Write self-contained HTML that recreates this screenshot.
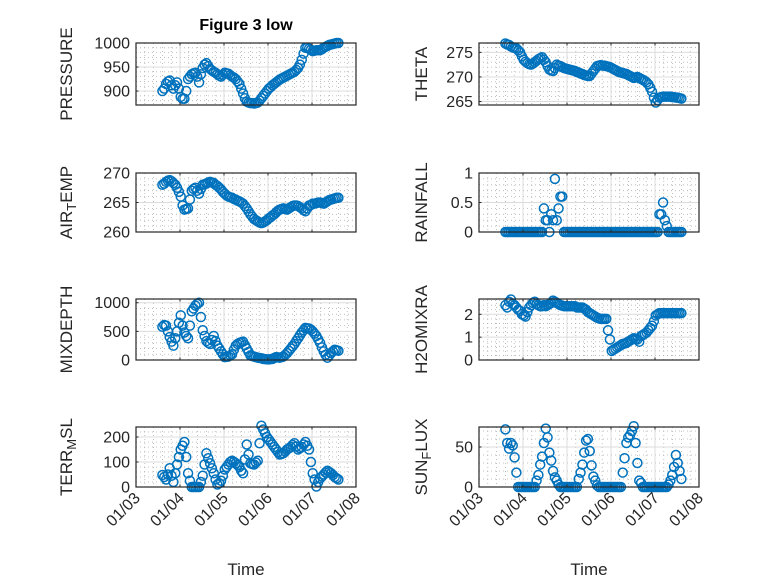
<!DOCTYPE html>
<html><head><meta charset="utf-8"><style>
body{margin:0;background:#fff}
svg{display:block;font-family:"Liberation Sans",sans-serif}
</style></head><body>
<svg id="fig" width="778" height="583" viewBox="0 0 778 583">
<rect width="778" height="583" fill="#fff"/>
<text x="246" y="30" text-anchor="middle" font-size="16" font-weight="bold" fill="#000">Figure 3 low</text>
</svg>
<script>
// time axis: hourly samples starting at day 3.6 (January)
const startDay = 3.6;
const stepDays = 1/24;
const xTickLabels = ["01/03","01/04","01/05","01/06","01/07","01/08"];
const pressure = [900,905,915,920,922,912,905,912,918,905,888,884,884,900,925,930,935,937,938,930,918,935,948,955,958,952,946,943,940,938,935,932,930,934,938,937,936,933,930,928,925,920,915,905,895,885,878,876,875,875,874,875,876,880,885,890,895,900,905,908,912,915,918,921,924,926,928,930,932,934,936,938,940,944,948,955,965,978,990,990,988,986,983,984,985,985,985,987,990,992,994,996,997,998,999,1000,1000];
const airTemp = [268,268.2,268.5,268.7,268.8,268.6,268.3,268,267.5,266.8,266,264.5,263.8,263.9,264,265.5,267,267.3,267.5,267,266.5,267.3,268,268.1,268.2,268.4,268.5,268.4,268.3,268,267.8,267.5,267.2,266.8,266.5,266.2,266,265.9,265.8,265.6,265.5,265.3,265.2,265,264.8,264.4,264,263.5,263,262.6,262.2,262,261.8,261.6,261.5,261.6,261.8,262,262.3,262.5,262.8,263,263.3,263.6,263.8,263.9,264,263.9,263.8,264,264.2,264.4,264.5,264.5,264.4,264.2,264,263.7,263.5,264,264.5,264.6,264.8,264.8,264.9,265,265,264.9,264.8,265,265.2,265.4,265.5,265.6,265.7,265.8,265.8];
const mixDepth = [580,610,600,500,400,320,250,380,500,650,780,600,480,420,380,600,850,900,950,980,1000,750,520,420,330,300,280,350,420,330,250,200,150,100,50,55,60,80,100,180,250,280,300,310,320,260,200,140,80,70,60,50,40,35,30,20,15,12,10,15,20,35,50,45,40,50,60,90,120,160,200,240,280,330,380,430,480,520,560,555,550,530,500,460,420,360,300,220,150,90,40,80,120,150,180,170,160];
const terrMsl = [48,40,30,50,75,45,20,55,90,120,150,165,180,120,55,25,0,0,0,0,0,20,45,90,135,115,95,75,55,30,10,15,25,45,70,80,90,100,105,100,95,88,80,65,55,110,170,130,95,92,90,98,105,175,245,230,215,200,190,180,170,160,150,140,130,132,135,142,150,155,160,168,175,162,150,155,160,170,180,165,150,100,55,30,2,20,35,42,50,58,65,60,55,48,40,35,30];
const theta = [276.8,276.6,276.5,276.2,276,275.9,275.8,275.4,275,274.2,273.5,273.1,272.8,272.6,272.5,272.7,273,273.3,273.6,273.8,274,273.5,273,272.2,271.5,271.3,271.2,271.8,272.5,272.3,272.2,272,271.8,271.7,271.6,271.5,271.4,271.3,271.2,271,270.9,270.7,270.6,270.4,270.3,270.2,270.2,270.7,271.2,271.7,272.2,272.3,272.4,272.3,272.3,272.2,272.1,272,271.8,271.6,271.4,271.2,271,270.9,270.8,270.7,270.6,270.4,270.2,270,269.8,269.9,270,269.8,269.6,269.4,269.2,268.9,268.5,267.8,267,265.8,264.8,265.3,265.8,265.9,266,266,266,266,266,265.9,265.9,265.8,265.8,265.7,265.6];
const rainfall = [0,0,0,0,0,0,0,0,0,0,0,0,0,0,0,0,0,0,0,0,0,0.4,0.2,0.2,0,0.3,0.2,0.9,0.2,0.4,0.6,0.6,0,0,0,0,0,0,0,0,0,0,0,0,0,0,0,0,0,0,0,0,0,0,0,0,0,0,0,0,0,0,0,0,0,0,0,0,0,0,0,0,0,0,0,0,0,0,0,0,0,0,0,0,0.3,0.3,0.5,0.2,0.1,0,0,0,0,0,0,0,0];
const h2oMix = [2.4,2.3,2.55,2.65,2.45,2.4,2.3,2.2,2.15,2.0,1.95,1.9,2.1,2.3,2.4,2.5,2.55,2.45,2.4,2.35,2.35,2.4,2.35,2.4,2.45,2.5,2.6,2.55,2.5,2.45,2.4,2.38,2.35,2.35,2.35,2.35,2.35,2.35,2.35,2.3,2.3,2.3,2.3,2.25,2.2,2.1,2.05,2.0,1.95,1.9,1.85,1.82,1.8,1.8,1.8,1.8,1.3,0.9,0.4,0.45,0.5,0.55,0.6,0.65,0.7,0.72,0.75,0.8,0.85,0.9,0.95,0.92,0.9,0.8,1.05,1.1,1.15,1.2,1.3,1.4,1.5,1.7,1.95,2.0,2.05,2.05,2.05,2.05,2.05,2.05,2.05,2.05,2.05,2.05,2.05,2.05,2.05];
const sunFlux = [72,55,48,55,52,37,18,0,0,0,0,0,0,0,0,0,0,8,15,28,38,55,73,62,43,33,20,12,8,3,0,0,0,0,0,0,0,0,0,0,10,18,28,43,58,60,45,27,13,8,2,0,0,0,0,0,0,0,0,0,0,0,0,0,18,36,55,62,65,70,76,55,30,8,5,0,0,0,0,0,0,0,0,0,0,0,0,0,0,3,8,15,25,40,30,20,10];

const pressureTicks = [900,950,1000], airTicks=[260,265,270], mixTicks=[0,500,1000], terrTicks=[0,100,200];
const thetaTicks=[265,270,275], rainTicks=[0,0.5,1], h2oTicks=[0,1,2], sunTicks=[0,50];

const NS="http://www.w3.org/2000/svg";
const svg=document.getElementById('fig');
function mk(tag,attrs,parent){const e=document.createElementNS(NS,tag);for(const k in attrs)e.setAttribute(k,attrs[k]);(parent||svg).appendChild(e);return e;}

const panels=[
 {name:'pressure',label:[['PRESSURE']],vals:pressure,ticks:pressureTicks,ylim:[871,1000],x:136,y:43,h:62,lx:72,xt:false},
 {name:'air-temp',label:[['AIR'],['T','sub'],['EMP']],vals:airTemp,ticks:airTicks,ylim:[260,270],x:136,y:173,h:59,lx:72,xt:false},
 {name:'mixdepth',label:[['MIXDEPTH']],vals:mixDepth,ticks:mixTicks,ylim:[0,1065],x:136,y:299,h:61,lx:72,xt:false},
 {name:'terr-msl',label:[['TERR'],['M','sub'],['SL']],vals:terrMsl,ticks:terrTicks,ylim:[0,240],x:136,y:427,h:60,lx:72,xt:true},
 {name:'theta',label:[['THETA']],vals:theta,ticks:thetaTicks,ylim:[264.3,276.9],x:479,y:43,h:62,lx:427,xt:false},
 {name:'rainfall',label:[['RAINFALL']],vals:rainfall,ticks:rainTicks,ylim:[0,1],x:479,y:173,h:59,lx:427,xt:false},
 {name:'h2omixra',label:[['H2OMIXRA']],vals:h2oMix,ticks:h2oTicks,ylim:[0,2.67],x:479,y:299,h:61,lx:427,xt:false},
 {name:'sun-flux',label:[['SUN'],['F','sub'],['LUX']],vals:sunFlux,ticks:sunTicks,ylim:[0,75],x:479,y:427,h:60,lx:427,xt:true}
];
const W=220, X0=3, X1=8;
panels.forEach(p=>{
  const g=mk('g',{});
  
  
  const xs=t=>p.x+(t-X0)/(X1-X0)*W;
  const ys=v=>p.y+p.h-(v-p.ylim[0])/(p.ylim[1]-p.ylim[0])*p.h;
  mk('rect',{x:p.x,y:p.y,width:W,height:p.h,fill:'#fff'},g);
  for(let d=X0;d<X1;d++)for(let k=1;k<5;k++){const xx=xs(d+k/5);mk('line',{x1:xx,x2:xx,y1:p.y,y2:p.y+p.h,stroke:'#b0b0b0','stroke-width':0.8,'stroke-dasharray':'1 3'},g);}
  const tk=p.ticks, stp=tk[1]-tk[0];
  for(let v=tk[0]-stp;v<=p.ylim[1]+stp;v+=stp)for(let k=1;k<5;k++){const vv=v+k*stp/5;if(vv<=p.ylim[0]||vv>=p.ylim[1])continue;const yy=ys(vv);mk('line',{x1:p.x,x2:p.x+W,y1:yy,y2:yy,stroke:'#b0b0b0','stroke-width':0.8,'stroke-dasharray':'1 3'},g);}
  for(let d=X0+1;d<X1;d++){const xx=xs(d);mk('line',{x1:xx,x2:xx,y1:p.y,y2:p.y+p.h,stroke:'#dcdcdc','stroke-width':1},g);}
  tk.forEach(v=>{const yy=ys(v);if(yy>p.y+0.5&&yy<p.y+p.h-0.5)mk('line',{x1:p.x,x2:p.x+W,y1:yy,y2:yy,stroke:'#dcdcdc','stroke-width':1},g);});
  p.vals.forEach((v,i)=>{
    const c=mk('circle',{cx:xs(startDay+i*stepDays),cy:ys(v),r:4.5,fill:'none',stroke:'#0072BD','stroke-width':1.5},g);
    
    
  });
  mk('rect',{x:p.x,y:p.y,width:W,height:p.h,fill:'none',stroke:'#262626','stroke-width':1.2},g);
  for(let d=X0;d<=X1;d++){const xx=xs(d);mk('line',{x1:xx,x2:xx,y1:p.y+p.h,y2:p.y+p.h-2.5,stroke:'#262626'},g);mk('line',{x1:xx,x2:xx,y1:p.y,y2:p.y+2.5,stroke:'#262626'},g);}
  tk.forEach(v=>{const yy=ys(v);mk('line',{x1:p.x,x2:p.x+2.5,y1:yy,y2:yy,stroke:'#262626'},g);
    const t=mk('text',{x:p.x-6,y:yy+5.5,'text-anchor':'end','font-size':16,fill:'#262626'},g);t.textContent=String(v);
    
    
  });
  const cy=p.y+p.h/2;
  const lt=mk('text',{x:0,y:0,'text-anchor':'middle','font-size':17,fill:'#262626',transform:`translate(${p.lx},${cy}) rotate(-90)`},g);
  
  
  p.label.forEach(seg=>{const s=mk('tspan',{},lt);s.textContent=seg[0];if(seg[1]==='sub'){s.setAttribute('baseline-shift','-30%');s.setAttribute('font-size','13');}});
  if(p.xt){
    xTickLabels.forEach((lab,i)=>{const xx=xs(X0+i);
      const t=mk('text',{x:0,y:0,'text-anchor':'end','font-size':16,fill:'#262626',transform:`translate(${xx+5},${p.y+p.h+12}) rotate(-45)`},g);t.textContent=lab;
      
      
    });
    const xt=mk('text',{x:p.x+W/2,y:575,'text-anchor':'middle','font-size':17,fill:'#262626'},g);xt.textContent='Time';
    
    
  }
});
</script>
</body></html>
